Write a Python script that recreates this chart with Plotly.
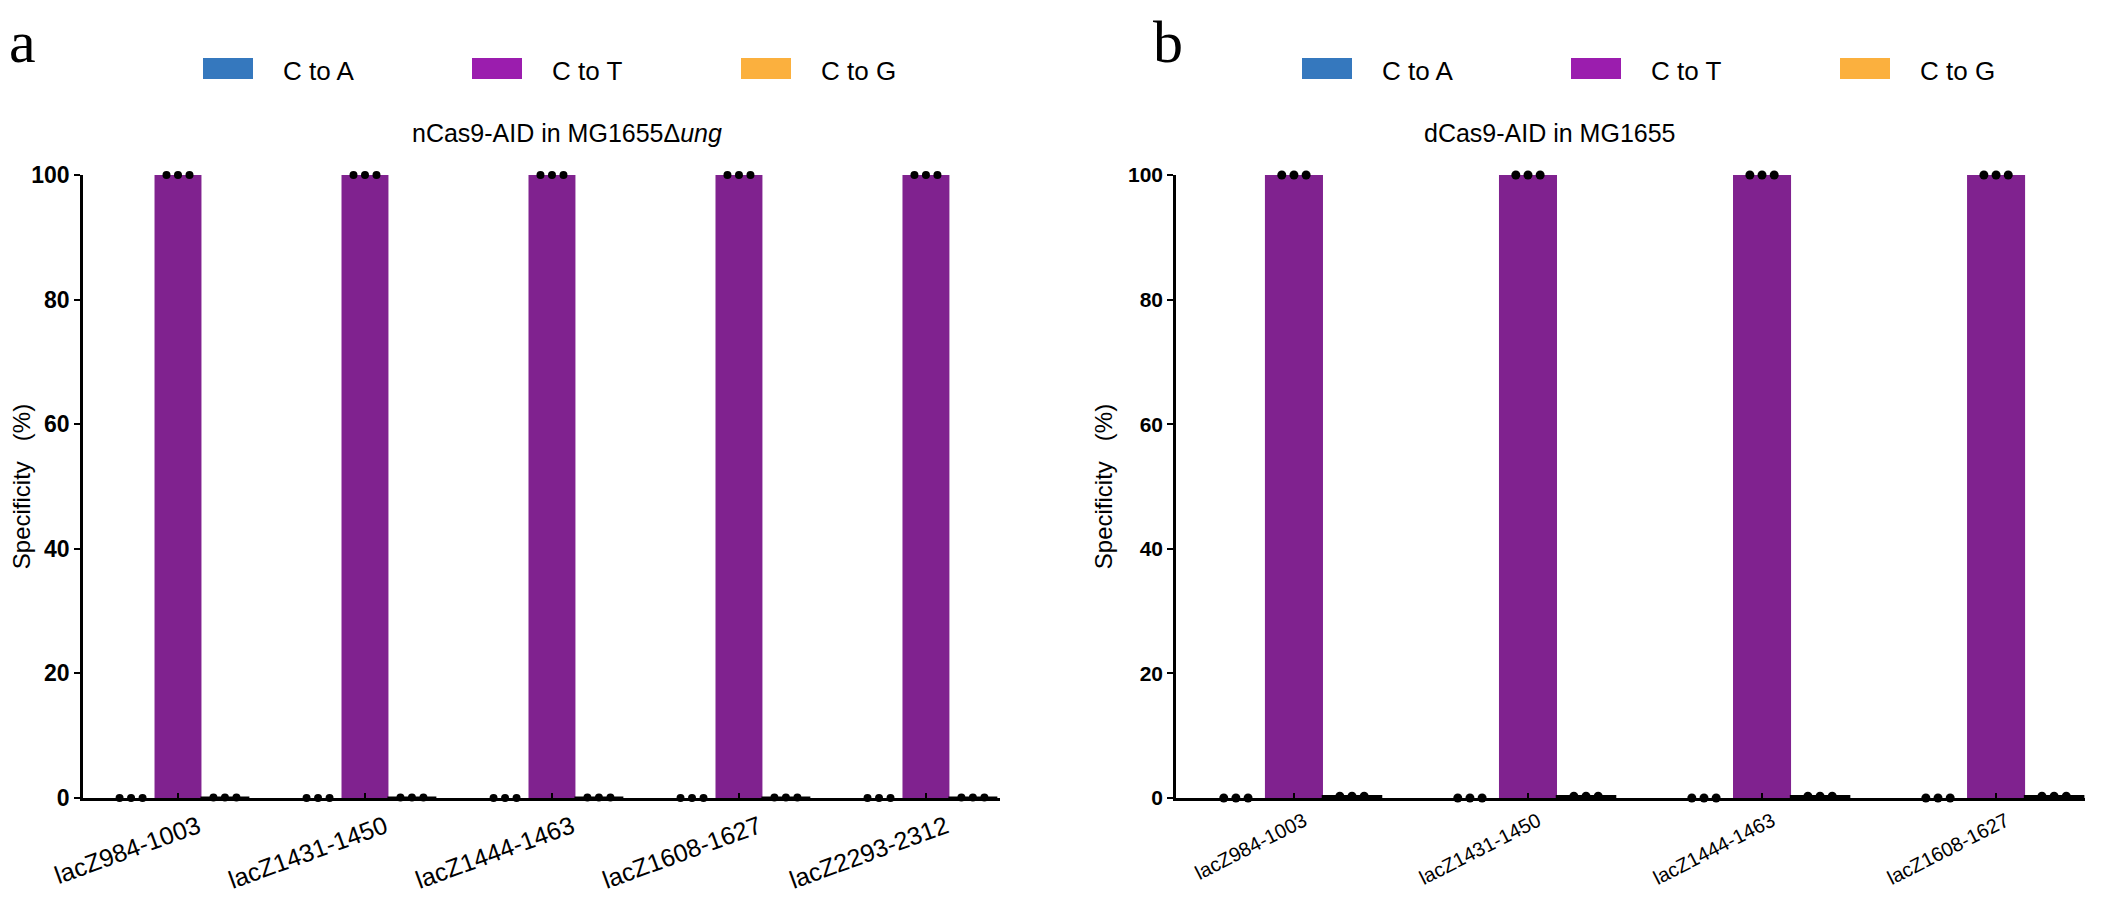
import plotly.graph_objects as go

W, H = 2114, 907

# ---------------- data ----------------
series = ["C to A", "C to T", "C to G"]

a_labels = ["lacZ984-1003", "lacZ1431-1450", "lacZ1444-1463", "lacZ1608-1627", "lacZ2293-2312"]
a_c_to_a = [[0, 0, 0], [0, 0, 0], [0, 0, 0], [0, 0, 0], [0, 0, 0]]
a_c_to_t = [[100, 100, 100], [100, 100, 100], [100, 100, 100], [100, 100, 100], [100, 100, 100]]
a_c_to_g = [[0.1, 0.1, 0.1], [0.1, 0.1, 0.1], [0.1, 0.1, 0.1], [0.1, 0.1, 0.1], [0.1, 0.1, 0.1]]

b_labels = ["lacZ984-1003", "lacZ1431-1450", "lacZ1444-1463", "lacZ1608-1627"]
b_c_to_a = [[0, 0, 0], [0, 0, 0], [0, 0, 0], [0, 0, 0]]
b_c_to_t = [[100, 100, 100], [100, 100, 100], [100, 100, 100], [100, 100, 100]]
b_c_to_g = [[0.3, 0.3, 0.3], [0.3, 0.3, 0.3], [0.3, 0.3, 0.3], [0.3, 0.3, 0.3]]

y_ticks = [0, 20, 40, 60, 80, 100]

# ---------------- style ----------------
bar_colors = ["#3578BE", "#80228F", "#FBB03E"]
legend_colors = ["#3578BE", "#9B1DAE", "#FBB03E"]
FONT = "Arial, Liberation Sans, sans-serif"
OFF = 8  # page body margin compensation


def px(x):
    return (x - OFF) / W


def py(y):
    return 1 - (y - OFF) / H


fig = go.Figure()


def add_panel(labels, reps, xa, ya, bar_w, dot_d, dot_size, g_line):
    for k, (name, vals) in enumerate(zip(series, reps)):
        xs = [i + (k - 1) * bar_w for i in range(len(labels))]
        means = [sum(v) / len(v) for v in vals]
        fig.add_trace(go.Bar(
            x=xs, y=means, width=bar_w, name=name, showlegend=False,
            marker=dict(color=bar_colors[k],
                        line=dict(color="black" if k == 2 else bar_colors[k],
                                  width=g_line if k == 2 else 0)),
            xaxis=xa, yaxis=ya))
    for k, (name, vals) in enumerate(zip(series, reps)):
        dx, dy = [], []
        for i, v in enumerate(vals):
            for j, val in enumerate(v):
                dx.append(i + (k - 1) * bar_w + (j - 1) * dot_d)
                dy.append(val)
        fig.add_trace(go.Scatter(
            x=dx, y=dy, mode="markers", showlegend=False, cliponaxis=False,
            marker=dict(color="black", size=dot_size),
            xaxis=xa, yaxis=ya))


add_panel(a_labels, [a_c_to_a, a_c_to_t, a_c_to_g], "x", "y", 0.251, 0.0615, 8, 2)
add_panel(b_labels, [b_c_to_a, b_c_to_t, b_c_to_g], "x2", "y2", 0.248, 0.052, 9, 2.5)

y_top, y_bot = 175, 798


def xaxis_cfg(dom, rng, labels, fsize, anchor, angle, shift, standoff):
    return dict(domain=[px(dom[0]), px(dom[1])], range=rng, anchor=anchor,
                automargin=False,
                tickmode="array", tickvals=list(range(len(labels))), ticktext=labels,
                tickangle=angle, ticklabelshift=shift, ticklabelstandoff=standoff,
                ticks="inside", ticklen=5, tickwidth=2, tickcolor="black",
                showline=True, linecolor="black", linewidth=2.5, zeroline=False,
                showgrid=False, tickfont=dict(family=FONT, size=fsize, color="black"),
                fixedrange=True)


def yaxis_cfg(anchor, fsize, standoff):
    return dict(domain=[py(y_bot), py(y_top)], range=[0, 100], anchor=anchor,
                automargin=False,
                tickmode="array", tickvals=y_ticks, ticks="outside", ticklen=6,
                tickwidth=2, tickcolor="black", showline=True, linecolor="black",
                linewidth=2.5, zeroline=False, showgrid=False,
                tickfont=dict(family=FONT, size=fsize, color="black", weight="bold"),
                title=dict(text="Specificity   (%)", standoff=standoff,
                           font=dict(family=FONT, size=24, color="black")),
                fixedrange=True)


fig.update_layout(
    template="none",
    width=W, height=H, margin=dict(l=0, r=0, t=0, b=0, pad=0), autosize=False,
    paper_bgcolor="white", plot_bgcolor="white",
    barmode="overlay", showlegend=False,
    xaxis=xaxis_cfg((83, 1000), [-0.508, 4.396], a_labels, 25, "y", -20, 20, 2),
    yaxis=yaxis_cfg("x", 23, 4),
    xaxis2=xaxis_cfg((1176, 2085), [-0.504, 3.380], b_labels, 20, "y2", -27, 10, 1),
    yaxis2=yaxis_cfg("x2", 21, 9),
)

annotations = []
shapes = []

# panel letters
for letter, xl in (("a", 8), ("b", 1152)):
    annotations.append(dict(text=letter, x=px(xl), y=1.0, xref="paper", yref="paper",
                            xanchor="left", yanchor="top", showarrow=False, borderpad=0,
                            font=dict(family="Liberation Serif, Times New Roman, serif",
                                      size=60, color="black")))

# legends (wide swatches)
for x0 in (203, 1302):
    for k, name in enumerate(series):
        sx = x0 + k * 269
        shapes.append(dict(type="rect", xref="paper", yref="paper",
                           x0=px(sx), x1=px(sx + 50), y0=py(79), y1=py(58),
                           fillcolor=legend_colors[k], line=dict(width=0)))
        annotations.append(dict(text=name, x=px(sx + 78), y=py(71), xref="paper", yref="paper",
                                xanchor="left", yanchor="middle", showarrow=False,
                                font=dict(family=FONT, size=26, color="black")))

# panel titles
annotations.append(dict(text="nCas9-AID in MG1655\u0394<i>ung</i>", x=px(567), y=py(133),
                        xref="paper", yref="paper", xanchor="center", yanchor="middle",
                        showarrow=False, font=dict(family=FONT, size=25, color="black")))
annotations.append(dict(text="dCas9-AID in MG1655", x=px(1550), y=py(133),
                        xref="paper", yref="paper", xanchor="center", yanchor="middle",
                        showarrow=False, font=dict(family=FONT, size=25, color="black")))

fig.update_layout(annotations=annotations, shapes=shapes)

fig.write_html("out.html")
